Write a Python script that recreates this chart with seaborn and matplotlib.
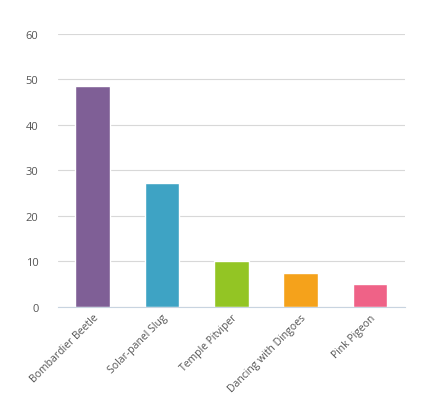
import matplotlib
matplotlib.use('Agg')
import matplotlib.pyplot as plt
import seaborn as sns

categories = ['Bombardier Beetle', 'Solar-panel Slug', 'Temple Pitviper', 'Dancing with Dingoes', 'Pink Pigeon']
values = [48.6, 27.3, 10.1, 7.5, 5.1]
colors = ['#7f5f96', '#3ea3c4', '#93c524', '#f5a21b', '#ef6287']

sns.set_style('white')
plt.rcParams['font.family'] = ['Open Sans', 'DejaVu Sans']

fig = plt.figure(figsize=(4.36, 4.14), dpi=100)
ax = fig.add_axes([0.133, 0.256, 0.795, 0.66])
sns.barplot(x=categories, y=values, hue=categories, palette=colors, width=0.5,
            saturation=1, legend=False, ax=ax)

ax.set_ylim(0, 60)
ax.set_yticks(range(0, 61, 10))
ax.yaxis.grid(True, color='#d8d8d8', linewidth=0.8)
ax.set_axisbelow(True)
for s in ['top', 'right', 'left']:
    ax.spines[s].set_visible(False)
ax.spines['bottom'].set_color('#c8d4e0')
ax.tick_params(axis='y', length=0, labelsize=8, colors='#555555', pad=14)
ax.tick_params(axis='x', length=5, color='#c8d4e0', labelsize=7.5, colors='#555555')
ax.set_xticks([i - 0.5 for i in range(6)], minor=True)
ax.tick_params(axis='x', which='minor', length=6, color='#c8d4e0')
ax.tick_params(axis='x', which='major', length=0)
plt.setp(ax.get_xticklabels(), rotation=45, ha='right', rotation_mode='anchor')
ax.set_xlim(-0.5, 4.5)

fig.savefig('out.png', dpi=100)
